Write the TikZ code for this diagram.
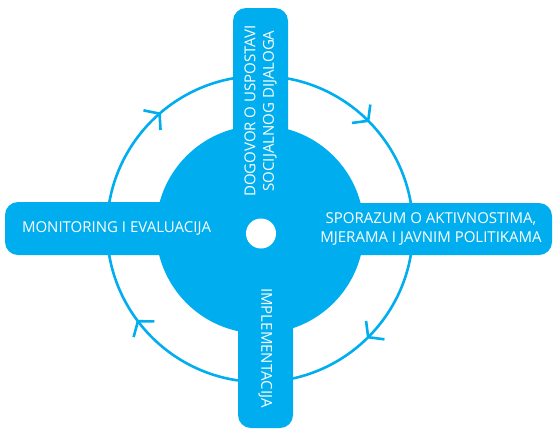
\documentclass[tikz,border=0pt]{standalone}
\usepackage{fontspec}
\setmainfont{Open Sans}
\usetikzlibrary{decorations.markings}
\definecolor{cyclecyan}{RGB}{0,174,239}
\newcommand{\cyclebarb}{\draw[line width=2.6pt] (-10pt,13pt) -- (0pt,0pt) -- (-10pt,-13pt);}

\begin{document}
\begin{tikzpicture}
[x=1pt,y=-1pt,%
  every node/.style={text=white,align=center,inner sep=0pt},%
  bar/.style={fill=cyclecyan,rounded corners=13pt},%
  loopline/.style={draw=cyclecyan,line width=2.6pt,postaction={decorate},%
    decoration={markings,%
      mark=at position 0.125 with {\cyclebarb},%
      mark=at position 0.397 with {\cyclebarb},%
      mark=at position 0.636 with {\cyclebarb},%
      mark=at position 0.875 with {\cyclebarb}}}]
\fontsize{15}{18.5}\selectfont
\useasboundingbox (0,0) rectangle (553,429);
\draw[loopline] (260,229) circle[radius=153];
\node[circle,fill=cyclecyan,minimum size=208pt] (hub) at (260,229.5) {};
\node[bar,rotate=90,minimum width=206pt,minimum height=55pt] (dialog)
  at (260.5,111) {DOGOVOR O USPOSTAVI\\SOCIJALNOG DIJALOGA};
\node[bar,minimum width=242pt,minimum height=52pt] (accord)
  at (431,229) {SPORAZUM O AKTIVNOSTIMA,\\MJERAMA I JAVNIM POLITIKAMA};
\node[bar,rotate=-90,minimum width=160pt,minimum height=55pt] (impl)
  at (265.5,348) {IMPLEMENTACIJA};
\node[bar,minimum width=223pt,minimum height=53pt] (monitor)
  at (116.5,228.5) {MONITORING I EVALUACIJA};
\node[circle,fill=white,minimum size=30pt] (eye) at (261,233.5) {};
\end{tikzpicture}
\end{document}
